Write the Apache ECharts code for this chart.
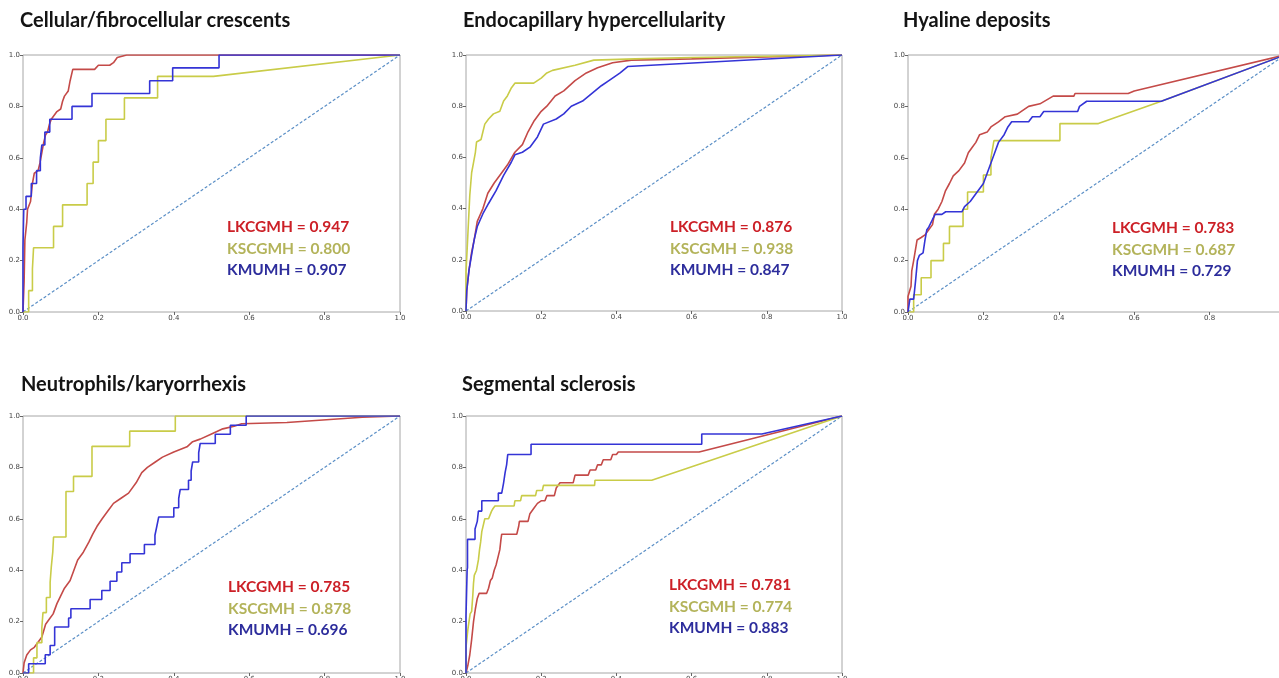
<!DOCTYPE html>
<html>
<head>
<meta charset="utf-8">
<script src="https://cdn.jsdelivr.net/npm/echarts@6/dist/echarts.min.js"></script>
<style>
html,body{margin:0;padding:0;background:#fff;}
#chart{width:1279px;height:678px;}
</style>
</head>
<body>
<div id="chart"></div>
<script>
// ---------- DATA ----------
const panelTitles = ['Cellular/fibrocellular crescents','Endocapillary hypercellularity','Hyaline deposits','Neutrophils/karyorrhexis','Segmental sclerosis'];
const hospitals = ['LKCGMH','KSCGMH','KMUMH'];
const auc1 = ['0.947','0.800','0.907'];
const auc2 = ['0.876','0.938','0.847'];
const auc3 = ['0.783','0.687','0.729'];
const auc4 = ['0.785','0.878','0.696'];
const auc5 = ['0.781','0.774','0.883'];
const tickValues = [0, 0.2, 0.4, 0.6, 0.8, 1.0];
const chanceLine = [[0,0],[1,1]];

// Panel 1: Cellular/fibrocellular crescents
const p1_LKCGMH = [[0,0],[0.003,0.12],[0.005,0.28],[0.01,0.35],[0.012,0.4],[0.02,0.43],[0.025,0.5],[0.03,0.54],[0.04,0.55],[0.045,0.58],[0.05,0.62],[0.055,0.66],[0.06,0.69],[0.065,0.7],[0.07,0.73],[0.075,0.75],[0.09,0.78],[0.1,0.79],[0.105,0.82],[0.11,0.84],[0.12,0.86],[0.125,0.9],[0.132,0.944],[0.19,0.944],[0.2,0.96],[0.23,0.96],[0.24,0.97],[0.25,0.99],[0.275,1.0],[1,1]];
const p1_KSCGMH = [[0,0],[0.015,0],[0.015,0.083],[0.025,0.083],[0.025,0.167],[0.028,0.167],[0.028,0.25],[0.081,0.25],[0.081,0.333],[0.105,0.333],[0.105,0.417],[0.17,0.417],[0.17,0.5],[0.186,0.5],[0.186,0.583],[0.2,0.583],[0.2,0.667],[0.22,0.667],[0.22,0.75],[0.269,0.75],[0.269,0.833],[0.357,0.833],[0.357,0.917],[0.505,0.917],[1,1]];
const p1_KMUMH = [[0,0],[0,0.25],[0.002,0.4],[0.008,0.4],[0.008,0.45],[0.022,0.45],[0.022,0.5],[0.036,0.5],[0.036,0.55],[0.046,0.55],[0.046,0.6],[0.05,0.6],[0.05,0.65],[0.058,0.65],[0.058,0.7],[0.071,0.7],[0.071,0.75],[0.13,0.75],[0.13,0.8],[0.183,0.8],[0.183,0.85],[0.336,0.85],[0.336,0.9],[0.397,0.9],[0.397,0.95],[0.52,0.95],[0.52,1.0],[1,1]];

// Panel 2: Endocapillary hypercellularity
const p2_LKCGMH = [[0,0],[0.002,0.08],[0.008,0.16],[0.015,0.23],[0.022,0.28],[0.03,0.35],[0.045,0.4],[0.058,0.46],[0.075,0.5],[0.095,0.54],[0.11,0.57],[0.13,0.62],[0.15,0.65],[0.165,0.7],[0.18,0.74],[0.2,0.78],[0.215,0.8],[0.237,0.84],[0.26,0.86],[0.29,0.9],[0.32,0.93],[0.35,0.95],[0.39,0.97],[0.44,0.98],[0.6,0.985],[1,1]];
const p2_KSCGMH = [[0,0],[0,0.15],[0.005,0.3],[0.01,0.45],[0.015,0.54],[0.02,0.58],[0.025,0.62],[0.028,0.66],[0.04,0.67],[0.045,0.7],[0.05,0.73],[0.06,0.75],[0.073,0.77],[0.09,0.78],[0.1,0.82],[0.11,0.84],[0.12,0.87],[0.13,0.89],[0.18,0.89],[0.2,0.91],[0.215,0.93],[0.23,0.94],[0.29,0.96],[0.34,0.98],[0.45,0.985],[0.6,0.99],[1,1]];
const p2_KMUMH = [[0,0],[0.002,0.08],[0.008,0.16],[0.015,0.22],[0.022,0.28],[0.03,0.33],[0.045,0.38],[0.06,0.42],[0.08,0.47],[0.1,0.53],[0.12,0.58],[0.13,0.61],[0.15,0.62],[0.17,0.64],[0.19,0.68],[0.206,0.73],[0.24,0.75],[0.26,0.77],[0.28,0.8],[0.31,0.82],[0.335,0.85],[0.36,0.88],[0.38,0.9],[0.41,0.93],[0.43,0.955],[1,1]];

// Panel 3: Hyaline deposits
const p3_LKCGMH = [[0,0],[0,0.06],[0.008,0.1],[0.01,0.16],[0.015,0.2],[0.02,0.2],[0.024,0.28],[0.035,0.29],[0.045,0.3],[0.055,0.32],[0.065,0.34],[0.07,0.38],[0.08,0.4],[0.09,0.43],[0.099,0.47],[0.11,0.5],[0.12,0.53],[0.135,0.55],[0.15,0.58],[0.16,0.62],[0.17,0.64],[0.18,0.66],[0.19,0.69],[0.21,0.7],[0.22,0.72],[0.24,0.74],[0.258,0.76],[0.29,0.77],[0.32,0.8],[0.35,0.81],[0.385,0.84],[0.44,0.84],[0.443,0.85],[0.584,0.85],[0.6,0.86],[1,1]];
const p3_KSCGMH = [[0,0],[0.015,0],[0.015,0.067],[0.035,0.067],[0.035,0.133],[0.061,0.133],[0.061,0.2],[0.094,0.2],[0.094,0.267],[0.11,0.267],[0.11,0.333],[0.146,0.333],[0.146,0.4],[0.158,0.4],[0.158,0.467],[0.2,0.467],[0.2,0.533],[0.22,0.533],[0.22,0.6],[0.228,0.667],[0.403,0.667],[0.403,0.733],[0.505,0.733],[0.672,0.82],[1,1]];
const p3_KMUMH = [[0,0],[0.005,0.05],[0.015,0.05],[0.02,0.12],[0.025,0.2],[0.03,0.22],[0.04,0.23],[0.045,0.28],[0.05,0.32],[0.055,0.33],[0.065,0.36],[0.072,0.38],[0.09,0.38],[0.1,0.39],[0.143,0.39],[0.15,0.41],[0.165,0.43],[0.18,0.46],[0.2,0.5],[0.21,0.54],[0.22,0.58],[0.23,0.62],[0.24,0.66],[0.255,0.69],[0.265,0.72],[0.275,0.74],[0.32,0.74],[0.33,0.76],[0.35,0.76],[0.36,0.78],[0.45,0.78],[0.455,0.8],[0.474,0.82],[0.672,0.82],[1,1]];

// Panel 4: Neutrophils/karyorrhexis
const p4_LKCGMH = [[0,0],[0.003,0.04],[0.01,0.07],[0.02,0.09],[0.03,0.1],[0.04,0.12],[0.05,0.14],[0.06,0.19],[0.07,0.21],[0.08,0.23],[0.09,0.27],[0.1,0.3],[0.11,0.33],[0.125,0.36],[0.135,0.4],[0.145,0.44],[0.16,0.47],[0.175,0.51],[0.185,0.54],[0.196,0.57],[0.21,0.6],[0.225,0.63],[0.24,0.66],[0.26,0.68],[0.28,0.7],[0.3,0.74],[0.315,0.78],[0.33,0.8],[0.35,0.82],[0.37,0.84],[0.4,0.86],[0.435,0.88],[0.45,0.9],[0.47,0.91],[0.5,0.93],[0.53,0.95],[0.56,0.96],[0.58,0.97],[0.7,0.975],[0.9,0.995],[1,1]];
const p4_KSCGMH = [[0,0],[0.028,0],[0.028,0.059],[0.037,0.059],[0.037,0.118],[0.05,0.118],[0.05,0.176],[0.053,0.235],[0.062,0.235],[0.062,0.294],[0.072,0.294],[0.072,0.353],[0.075,0.412],[0.079,0.471],[0.081,0.529],[0.114,0.529],[0.114,0.706],[0.134,0.706],[0.134,0.765],[0.183,0.765],[0.183,0.882],[0.283,0.882],[0.283,0.941],[0.404,0.941],[0.404,1.0],[1,1]];
const p4_KMUMH = [[0,0],[0.015,0],[0.015,0.036],[0.059,0.036],[0.059,0.071],[0.072,0.071],[0.072,0.107],[0.084,0.107],[0.084,0.179],[0.121,0.179],[0.121,0.214],[0.127,0.214],[0.127,0.25],[0.178,0.25],[0.178,0.286],[0.209,0.286],[0.209,0.321],[0.231,0.321],[0.231,0.357],[0.249,0.357],[0.249,0.393],[0.262,0.393],[0.262,0.429],[0.284,0.429],[0.284,0.464],[0.322,0.464],[0.322,0.5],[0.35,0.5],[0.35,0.536],[0.355,0.536],[0.355,0.571],[0.36,0.571],[0.36,0.607],[0.4,0.607],[0.4,0.643],[0.413,0.643],[0.413,0.679],[0.417,0.679],[0.417,0.714],[0.439,0.714],[0.439,0.75],[0.446,0.75],[0.446,0.786],[0.45,0.786],[0.45,0.821],[0.466,0.821],[0.466,0.857],[0.47,0.857],[0.47,0.893],[0.51,0.893],[0.51,0.929],[0.55,0.929],[0.55,0.964],[0.592,0.964],[0.592,1.0],[1,1]];

// Panel 5: Segmental sclerosis
const p5_LKCGMH = [[0,0],[0.005,0.03],[0.01,0.07],[0.015,0.13],[0.02,0.2],[0.025,0.25],[0.03,0.29],[0.035,0.31],[0.055,0.31],[0.06,0.33],[0.065,0.36],[0.07,0.37],[0.075,0.4],[0.08,0.42],[0.085,0.45],[0.09,0.48],[0.093,0.52],[0.095,0.54],[0.135,0.54],[0.14,0.57],[0.142,0.59],[0.165,0.59],[0.17,0.62],[0.18,0.64],[0.19,0.66],[0.2,0.67],[0.21,0.67],[0.215,0.69],[0.235,0.69],[0.24,0.72],[0.25,0.74],[0.285,0.74],[0.29,0.77],[0.325,0.77],[0.33,0.79],[0.345,0.79],[0.35,0.81],[0.36,0.81],[0.365,0.83],[0.385,0.83],[0.39,0.85],[0.4,0.85],[0.405,0.86],[0.62,0.86],[1,1]];
const p5_KSCGMH = [[0,0],[0,0.1],[0.005,0.17],[0.011,0.23],[0.015,0.24],[0.018,0.3],[0.02,0.35],[0.022,0.38],[0.028,0.4],[0.033,0.44],[0.036,0.48],[0.039,0.51],[0.042,0.55],[0.05,0.6],[0.06,0.6],[0.068,0.63],[0.072,0.64],[0.077,0.65],[0.128,0.65],[0.13,0.67],[0.145,0.67],[0.148,0.69],[0.185,0.69],[0.188,0.71],[0.203,0.71],[0.206,0.73],[0.342,0.73],[0.343,0.75],[0.494,0.75],[1,1]];
const p5_KMUMH = [[0,0],[0,0.22],[0.003,0.4],[0.004,0.41],[0.004,0.52],[0.024,0.52],[0.024,0.56],[0.03,0.59],[0.033,0.63],[0.042,0.63],[0.042,0.67],[0.086,0.67],[0.086,0.7],[0.095,0.7],[0.1,0.74],[0.104,0.78],[0.108,0.81],[0.111,0.85],[0.173,0.85],[0.173,0.89],[0.627,0.89],[0.627,0.93],[0.787,0.93],[1,1]];

// ---------- LAYOUT / STYLE ----------
const gridsPx = [
  {left:23,  top:55,  width:377, height:257},
  {left:466, top:55,  width:376, height:256},
  {left:908, top:55,  width:377, height:257},
  {left:23,  top:416, width:377, height:257},
  {left:466, top:416, width:376, height:257}
];
const titlePos = [[20,11],[463,11],[903,11],[21,375],[462,375]];
const aucPos = [[227,227],[670,227],[1112,228],[228,587],[669,585]];
const lineColors = ['#c44a48','#c9cc48','#3434d6'];
const textColors = ['#cc2027','#b3b35a','#2d2d9c'];
const diagColor = '#5b8fc6';

const panelSeries = [
  [p1_LKCGMH,p1_KSCGMH,p1_KMUMH],
  [p2_LKCGMH,p2_KSCGMH,p2_KMUMH],
  [p3_LKCGMH,p3_KSCGMH,p3_KMUMH],
  [p4_LKCGMH,p4_KSCGMH,p4_KMUMH],
  [p5_LKCGMH,p5_KSCGMH,p5_KMUMH]
];
const panelAuc = [auc1,auc2,auc3,auc4,auc5];

const grid = [], xAxis = [], yAxis = [], series = [], title = [], graphic = [];
gridsPx.forEach((g,i)=>{
  grid.push(Object.assign({show:true, borderColor:'#a6a6a6', borderWidth:1, backgroundColor:'#fff',
    containLabel:false, outerBoundsMode:'none'}, g));
  const axisCommon = {
    gridIndex:i, type:'value', min:tickValues[0], max:tickValues[tickValues.length-1], interval:0.2,
    axisLine:{show:false}, splitLine:{show:false},
    axisTick:{show:true, inside:false, length:3, lineStyle:{color:'#666', width:1}},
    axisLabel:{fontSize:7, color:'#444', fontFamily:'DejaVu Sans', margin:3, formatter:(v)=>v.toFixed(1)}
  };
  xAxis.push(Object.assign({}, axisCommon));
  yAxis.push(Object.assign({}, axisCommon));
  series.push({type:'line', xAxisIndex:i, yAxisIndex:i, data:chanceLine, showSymbol:false, silent:true,
    lineStyle:{color:diagColor, width:1.2, type:[3,2]}, z:2});
  panelSeries[i].forEach((d,k)=>{
    series.push({type:'line', name:hospitals[k], xAxisIndex:i, yAxisIndex:i, data:d, showSymbol:false, silent:true,
      lineStyle:{color:lineColors[k], width:1.6}, z:3});
  });
  title.push({text:panelTitles[i], left:titlePos[i][0], top:titlePos[i][1], padding:0,
    textStyle:{fontFamily:'Lato', fontWeight:'bold', fontSize:20, color:'#141414'}});
  hospitals.forEach((h,k)=>{
    graphic.push({type:'text', x:aucPos[i][0], y:aucPos[i][1] + k*21.5, z:100,
      style:{text:h + ' = ' + panelAuc[i][k], fill:textColors[k], font:'bold 15.5px Lato', verticalAlign:'middle', align:'left'}});
  });
});

const chart = echarts.init(document.getElementById('chart'), null, {renderer:'canvas'});
chart.setOption({animation:false, backgroundColor:'#fff', title, grid, xAxis, yAxis, series, graphic});
</script>
</body>
</html>
